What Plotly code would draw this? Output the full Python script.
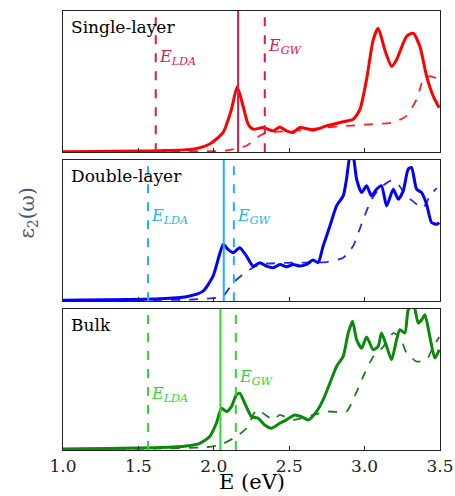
import plotly.graph_objects as go
from plotly.subplots import make_subplots

# ---------------- data ----------------
panel_names = ["Single-layer", "Double-layer", "Bulk"]

# Single-layer
sl_E = [1.0, 1.2, 1.5, 1.641, 1.863, 1.973, 2.062, 2.117, 2.155, 2.194, 2.228, 2.261, 2.327,
        2.394, 2.438, 2.482, 2.526, 2.570, 2.659, 2.747, 2.836, 2.924, 2.969, 3.013, 3.057,
        3.090, 3.134, 3.179, 3.212, 3.278, 3.322, 3.367, 3.411, 3.455, 3.495]
sl_eps = [0.005, 0.006, 0.009, 0.012, 0.023, 0.059, 0.141, 0.304, 0.464, 0.328, 0.199, 0.164, 0.176,
          0.152, 0.180, 0.152, 0.141, 0.176, 0.157, 0.187, 0.211, 0.234, 0.304, 0.515, 0.796,
          0.878, 0.726, 0.609, 0.656, 0.820, 0.843, 0.749, 0.539, 0.398, 0.316]
sl_nl_E = [1.0, 1.6, 1.9, 2.08, 2.217, 2.305, 2.349, 2.526, 2.747, 2.969, 3.190, 3.278, 3.345,
           3.389, 3.433, 3.495]
sl_nl_eps = [0.003, 0.005, 0.008, 0.012, 0.047, 0.117, 0.140, 0.152, 0.176, 0.194, 0.211, 0.258,
             0.375, 0.515, 0.539, 0.515]

# Double-layer
dl_E = [1.0, 1.641, 1.818, 1.929, 1.995, 2.035, 2.062, 2.095, 2.128, 2.172, 2.217, 2.261, 2.305,
        2.349, 2.394, 2.438, 2.482, 2.526, 2.570, 2.615, 2.659, 2.692, 2.725, 2.770, 2.814,
        2.858, 2.880, 2.907, 2.924, 2.947, 2.980, 3.013, 3.046, 3.079, 3.112, 3.146, 3.190,
        3.223, 3.256, 3.289, 3.311, 3.345, 3.378, 3.411, 3.444, 3.478, 3.495]
dl_eps = [0.007, 0.017, 0.031, 0.071, 0.177, 0.319, 0.402, 0.366, 0.343, 0.378, 0.319, 0.248, 0.272,
          0.248, 0.236, 0.260, 0.243, 0.260, 0.248, 0.260, 0.291, 0.272, 0.390, 0.532, 0.674,
          0.745, 0.863, 1.050, 1.030, 0.863, 0.768, 0.816, 0.745, 0.792, 0.816, 0.674, 0.792,
          0.721, 0.780, 0.934, 0.946, 0.792, 0.768, 0.686, 0.556, 0.544, 0.556]
dl_nl_E = [1.0, 1.6, 1.863, 2.017, 2.062, 2.128, 2.217, 2.305, 2.526, 2.747, 2.858, 2.924, 2.991,
           3.046, 3.101, 3.168, 3.212, 3.278, 3.345, 3.389, 3.433, 3.478]
dl_nl_eps = [0.005, 0.008, 0.012, 0.024, 0.035, 0.130, 0.210, 0.260, 0.272, 0.277, 0.307, 0.390,
             0.579, 0.720, 0.800, 0.850, 0.840, 0.745, 0.686, 0.660, 0.745, 0.800]

# Bulk
bk_E = [1.0, 1.641, 1.818, 1.907, 1.973, 2.017, 2.051, 2.084, 2.117, 2.150, 2.172, 2.205, 2.250,
        2.294, 2.338, 2.382, 2.438, 2.482, 2.537, 2.582, 2.626, 2.681, 2.725, 2.770, 2.814,
        2.858, 2.891, 2.920, 2.947, 2.980, 3.013, 3.057, 3.090, 3.112, 3.146, 3.179, 3.212,
        3.234, 3.267, 3.289, 3.322, 3.356, 3.378, 3.400, 3.433, 3.466, 3.495]
bk_eps = [0.007, 0.017, 0.028, 0.047, 0.095, 0.189, 0.296, 0.272, 0.307, 0.390, 0.402, 0.331, 0.236,
          0.225, 0.177, 0.154, 0.189, 0.213, 0.248, 0.236, 0.213, 0.272, 0.355, 0.473, 0.591,
          0.662, 0.827, 0.910, 0.780, 0.720, 0.800, 0.709, 0.733, 0.827, 0.733, 0.638, 0.780,
          0.851, 0.827, 0.990, 1.040, 0.898, 0.920, 0.957, 0.800, 0.650, 0.709]
bk_nl_E = [1.0, 1.6, 1.951, 2.040, 2.150, 2.217, 2.283, 2.327, 2.394, 2.438, 2.526, 2.659, 2.747,
           2.880, 2.924, 2.991, 3.057, 3.123, 3.190, 3.234, 3.278, 3.345, 3.411, 3.455, 3.495]
bk_nl_eps = [0.005, 0.010, 0.019, 0.035, 0.095, 0.154, 0.284, 0.260, 0.213, 0.248, 0.213, 0.248,
             0.272, 0.272, 0.355, 0.520, 0.660, 0.730, 0.827, 0.800, 0.686, 0.626, 0.638, 0.730,
             0.800]

# gap markers: E_LDA, exciton peak, E_GW
E_lda = [1.615, 1.564, 1.564]
E_exc = [2.161, 2.066, 2.044]
E_gw = [2.338, 2.133, 2.146]
label_lda_y = [0.76, 0.60, 0.39]
label_gw_y = [0.84, 0.60, 0.51]

x_ticks = [1.0, 1.5, 2.0, 2.5, 3.0, 3.5]
x_tick_labels = ["1.0", "1.5", "2.0", "2.5", "3.0", "3.5"]

curve_colors = ["#ff0000", "#0000ff", "#0a8a0a"]
dash_colors = ["#ff2020", "#2a2ae0", "#1e7a1e"]
marker_colors = ["#e0174a", "#1cb4f0", "#2ed62e"]

solids = [(sl_E, sl_eps), (dl_E, dl_eps), (bk_E, bk_eps)]
dashes = [(sl_nl_E, sl_nl_eps), (dl_nl_E, dl_nl_eps), (bk_nl_E, bk_nl_eps)]

# ---------------- figure ----------------
fig = make_subplots(rows=3, cols=1, shared_xaxes=True, vertical_spacing=0.017)
serif = "DejaVu Serif, serif"

for i in range(3):
    r = i + 1
    xs, ys = dashes[i]
    fig.add_trace(go.Scatter(x=xs, y=ys, mode="lines",
                             line=dict(color=dash_colors[i], width=1.8, dash="dash",
                                       shape="spline", smoothing=0.5),
                             showlegend=False, hoverinfo="skip"), row=r, col=1)
    xs, ys = solids[i]
    fig.add_trace(go.Scatter(x=xs, y=ys, mode="lines",
                             line=dict(color=curve_colors[i], width=3,
                                       shape="spline", smoothing=0.6),
                             showlegend=False, hoverinfo="skip"), row=r, col=1)
    yref = "y domain" if r == 1 else f"y{r} domain"
    xref = "x" if r == 1 else f"x{r}"
    xdom = "x domain" if r == 1 else f"x{r} domain"
    for xv, dsh in [(E_lda[i], "dash"), (E_exc[i], "solid"), (E_gw[i], "dash")]:
        fig.add_shape(type="line", x0=xv, x1=xv, y0=0, y1=1, xref=xref, yref=yref,
                      line=dict(color=marker_colors[i], width=2, dash=dsh))
    fig.add_annotation(x=E_lda[i], y=label_lda_y[i], xref=xref, yref=yref,
                       text="<i>E</i><sub><i>LDA</i></sub>", showarrow=False,
                       xanchor="left", xshift=1,
                       font=dict(family=serif, size=16, color=marker_colors[i]))
    fig.add_annotation(x=E_gw[i], y=label_gw_y[i], xref=xref, yref=yref,
                       text="<i>E</i><sub><i>GW</i></sub>", showarrow=False,
                       xanchor="left", xshift=1,
                       font=dict(family=serif, size=16, color=marker_colors[i]))
    fig.add_annotation(x=0.015, y=0.97, xref=xdom, yref=yref, text=panel_names[i],
                       showarrow=False, xanchor="left", yanchor="top",
                       font=dict(family=serif, size=17, color="black"))
    fig.update_yaxes(row=r, col=1, range=[0, 1], showticklabels=False, ticks="",
                     showgrid=False, zeroline=False, showline=True, mirror=True,
                     linecolor="#222", linewidth=1.2, fixedrange=True, automargin=False)
    fig.update_xaxes(row=r, col=1, range=[1.0, 3.5], tickvals=x_ticks, ticktext=x_tick_labels,
                     showticklabels=(r == 3), ticks="inside", ticklen=4, tickcolor="#222",
                     showgrid=False, zeroline=False, showline=True, mirror=True,
                     linecolor="#222", linewidth=1.2, automargin=False,
                     tickfont=dict(family=serif, size=17, color="#222"))

fig.add_annotation(x=0.5, y=-0.074, xref="paper", yref="paper", text="E (eV)",
                   showarrow=False, xanchor="center", yanchor="middle",
                   font=dict(family=serif, size=21, color="black"))

fig.add_annotation(x=-0.094, y=0.54, xref="paper", yref="paper",
                   text="ε<sub>2</sub>(ω)", textangle=-90, showarrow=False,
                   xanchor="center", yanchor="middle",
                   font=dict(family=serif, size=20, color="#4a5570"))

fig.update_layout(width=455, height=496, margin=dict(l=63, r=15, t=11, b=46, autoexpand=False),
                  paper_bgcolor="white", plot_bgcolor="white")

fig.write_html("out.html", config={"displayModeBar": False},
               post_script="document.body.style.margin='0px';")
